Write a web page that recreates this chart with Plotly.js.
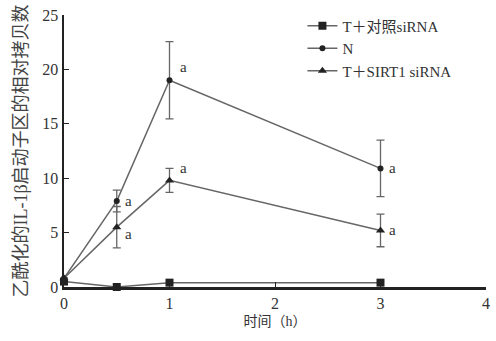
<!DOCTYPE html>
<html>
<head>
<meta charset="utf-8">
<script src="https://cdn.plot.ly/plotly-3.0.1.min.js"></script>
<style>html,body{margin:0;padding:0;background:#fff;}#chart{width:496px;height:341px;}</style>
</head>
<body>
<div id="chart"></div>
<script>
// Data
const times = [0, 0.5, 1, 3];
const seriesNames = ["T＋对照siRNA", "N", "T＋SIRT1 siRNA"];
const ctrlVals = [0.5, 0, 0.4, 0.4];
const nVals = [0.8, 7.9, 19, 10.9];
const nErr = [0, 1.0, 3.55, 2.6];
const sirtVals = [0.8, 5.5, 9.8, 5.2];
const sirtErr = [0, 1.9, 1.1, 1.5];
const xTicks = [0, 1, 2, 3, 4];
const yTicks = [0, 5, 10, 15, 20, 25];
const sigLabel = "a";
const yTitle = "乙酰化的IL-1β启动子区的相对拷贝数";
const xTitle = "时间（h）";

const serif = '"Liberation Serif", "Noto Sans CJK SC", serif';
const lineColor = '#666';
const markColor = '#222';

const traces = [
  {x: times, y: ctrlVals, name: seriesNames[0], mode: 'lines+markers',
   line: {color: lineColor, width: 1.5}, marker: {symbol: 'square', size: 8, color: markColor}, cliponaxis: false},
  {x: times, y: nVals, name: seriesNames[1], mode: 'lines+markers',
   line: {color: lineColor, width: 1.5}, marker: {symbol: 'circle', size: 6, color: markColor}, cliponaxis: false,
   error_y: {type: 'data', array: nErr, visible: true, color: lineColor, thickness: 1.3, width: 4}},
  {x: times, y: sirtVals, name: seriesNames[2], mode: 'lines+markers',
   line: {color: lineColor, width: 1.5}, marker: {symbol: 'triangle-up', size: 8, color: markColor}, cliponaxis: false,
   error_y: {type: 'data', array: sirtErr, visible: true, color: lineColor, thickness: 1.3, width: 4}}
];

// significance labels anchored to the data points
const annotations = [];
function addSig(xs, ys, idx, dx, dy) {
  annotations.push({x: xs[idx], y: ys[idx], xref: 'x', yref: 'y', text: sigLabel, showarrow: false,
    xanchor: 'left', yanchor: 'middle', xshift: dx, yshift: dy,
    font: {family: serif, size: 15, color: '#333'}});
}
addSig(times, nVals, 1, 6, 0);
addSig(times, nVals, 2, 8, 13);
addSig(times, nVals, 3, 6, 0);
addSig(times, sirtVals, 1, 6, -7);
addSig(times, sirtVals, 2, 8, 12);
addSig(times, sirtVals, 3, 6, 0);

const layout = {
  width: 496, height: 341,
  margin: {l: 64, r: 10, t: 15, b: 54},
  paper_bgcolor: '#fff', plot_bgcolor: '#fff',
  showlegend: true,
  legend: {x: 0.565, y: 1.02, xanchor: 'left', yanchor: 'top', bgcolor: 'rgba(0,0,0,0)',
    font: {family: serif, size: 15, color: '#333'}, tracegroupgap: 0, itemwidth: 30},
  xaxis: {range: [0, 4], tickvals: xTicks, ticktext: xTicks.map(String), ticks: 'inside', ticklen: 5,
    tickcolor: '#222', showline: true, linecolor: '#222', linewidth: 2.5, showgrid: false, zeroline: false,
    tickfont: {family: serif, size: 16, color: '#333'},
    title: {text: xTitle, font: {family: serif, size: 14, color: '#333'}, standoff: 6}},
  yaxis: {range: [0, 25], tickvals: yTicks, ticktext: yTicks.map(String), ticks: 'inside', ticklen: 5,
    tickcolor: '#222', showline: true, linecolor: '#222', linewidth: 2.5, showgrid: false, zeroline: false,
    tickfont: {family: serif, size: 16, color: '#333'},
    title: {text: yTitle, font: {family: serif, size: 18, color: '#444'}, standoff: 10}},
  annotations: annotations
};

Plotly.newPlot('chart', traces, layout, {staticPlot: true, displayModeBar: false});
</script>
</body>
</html>
